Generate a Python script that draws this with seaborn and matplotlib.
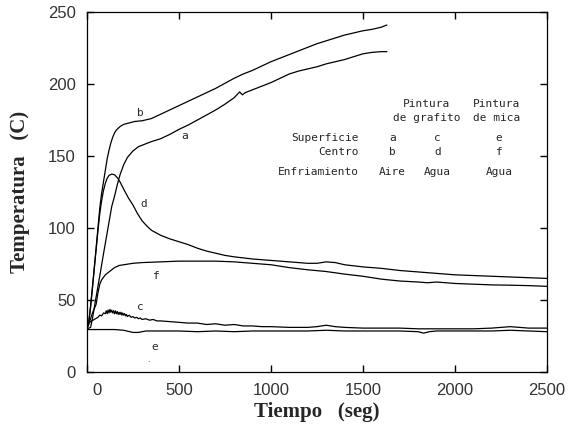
import numpy as np
import pandas as pd
import seaborn as sns
import matplotlib
matplotlib.use("Agg")
import matplotlib.pyplot as plt
from matplotlib.transforms import ScaledTranslation

# curva b: centro, pintura de grafito, aire
t_b = [0, 10, 20, 30, 40, 50, 60, 70, 80, 90, 100, 110, 120, 130, 140, 150, 160, 180, 200, 230,
       260, 300, 350, 400, 450, 500, 550, 600, 650, 700, 750, 800, 850, 900, 950, 1000, 1050,
       1100, 1150, 1200, 1250, 1300, 1350, 1400, 1450, 1500, 1550, 1600, 1630]
T_b = [30, 34, 45, 58, 72, 86, 100, 114, 124, 132, 140, 148, 154, 159, 163, 166, 168, 170.5, 172, 173,
       174, 174.5, 176, 179, 182, 185, 188, 191, 194, 197, 200.5, 204, 207, 209.5, 212.5, 215.5, 218,
       220.5, 223, 225.5, 228, 230, 232, 234, 235.5, 237, 238, 239.5, 241]

# curva a: superficie, pintura de grafito, aire
t_a = [0, 20, 30, 45, 60, 75, 90, 105, 120, 135, 150, 165, 180, 200, 220, 250, 280, 300, 350,
       400, 450, 500, 550, 600, 650, 700, 750, 800, 830, 845, 860, 900, 950, 1000, 1050,
       1100, 1150, 1200, 1250, 1300, 1350, 1400, 1450, 1500, 1550, 1600, 1630]
T_a = [30, 31, 37, 48.5, 59.5, 70.5, 82, 93, 104, 115, 122, 130, 137, 144, 149, 153.5, 156.5, 157.5, 160,
       162, 165, 168.5, 171.5, 175, 178.5, 182, 186, 190.5, 194.5, 192.5, 194, 196, 198.5, 201, 204,
       207, 209, 210.5, 212, 214, 215.5, 217, 219, 221, 222, 222.5, 222.5]

# curva d: centro, pintura de grafito, agua
t_d = [0, 10, 20, 30, 40, 50, 60, 70, 80, 90, 100, 110, 120, 135, 150, 165, 180, 200, 225, 250,
       275, 300, 325, 350, 400, 450, 500, 550, 600, 650, 700, 750, 800, 900, 1000, 1100, 1150,
       1200, 1250, 1300, 1350, 1400, 1500, 1600, 1700, 1800, 1900, 2000, 2100, 2200, 2300, 2400, 2500]
T_d = [30, 35, 46, 59, 72, 85, 98, 110, 119, 126, 131, 134.5, 136.5, 137.5, 137, 135, 132, 127, 121, 116,
       110, 105, 101.5, 98.5, 95, 92.5, 90.5, 88.5, 86, 84, 82.5, 81, 80, 78.5, 77.5, 76.5, 76,
       75.5, 75.5, 76.5, 76, 74.5, 73, 72, 70.5, 69.5, 68.5, 67.5, 67, 66.5, 66, 65.5, 65]

# curva f: centro, pintura de mica, agua
t_f = [0, 10, 20, 30, 40, 50, 60, 70, 80, 100, 125, 150, 175, 200, 250, 300, 400, 500, 600, 700,
       800, 900, 1000, 1100, 1200, 1300, 1400, 1500, 1600, 1700, 1800, 1850, 1900, 1950, 2000,
       2100, 2200, 2300, 2400, 2500]
T_f = [30, 33, 37, 41, 44, 47, 55, 61, 64, 67.5, 70, 72.5, 74, 74.5, 75.5, 76, 76.5, 77, 77, 77,
       76.5, 75.5, 74.5, 72.5, 71, 69.8, 68, 66.5, 64.5, 63.2, 62.5, 62, 62.5, 62, 61.5,
       61, 60.5, 60.3, 60, 59.5]

# curva c: superficie, pintura de grafito, agua (señal ruidosa)
t_c = [0, 20, 40, 60, 70, 80, 90, 100, 105, 110, 115, 120, 125, 130, 135, 140, 145, 150, 155, 160,
       165, 170, 175, 180, 185, 190, 195, 200, 205, 210, 215, 220, 230, 240, 250, 260, 270, 280,
       290, 300, 320, 340, 360, 380, 400, 450, 500, 550, 600, 650, 700, 750, 800, 850, 900, 950,
       1000, 1100, 1200, 1250, 1300, 1350, 1400, 1500, 1600, 1700, 1800, 1900, 2000, 2100, 2200,
       2250, 2300, 2350, 2400, 2500]
T_c = [33, 35, 36.5, 38, 39.5, 39, 41, 40.5, 42.5, 40.5, 43, 41, 43.5, 41.5, 43, 41, 42.5, 40.5, 42.5, 40.5,
       42, 40, 41.5, 40, 41.5, 39.5, 41, 39.5, 40.5, 39, 40, 38.5, 39.5, 38, 38.5, 37.5, 38, 37,
       37.5, 36.5, 37, 36, 36.5, 35.5, 35.5, 35, 34.5, 34, 34, 33, 33.5, 32.5, 33, 32, 32, 31.5,
       31.5, 31, 31, 31.5, 32.5, 31.5, 31, 30.5, 30.5, 30.5, 30, 30, 30, 30, 30.5,
       31, 31.5, 31, 30.5, 30.5]

# curva e: superficie, pintura de mica, agua
t_e = [0, 100, 150, 200, 250, 280, 320, 400, 500, 600, 700, 800, 900, 1000, 1100, 1200, 1300,
       1400, 1500, 1600, 1700, 1800, 1830, 1860, 1900, 2000, 2100, 2200, 2300, 2400, 2500]
T_e = [29.5, 29.5, 29.5, 29, 27.5, 27.5, 28.5, 28.5, 28.5, 28, 28.5, 28, 28.5, 28.5, 28.5, 28.5, 29,
       28.5, 28.5, 28.5, 28.5, 28, 27, 28, 28.5, 28.5, 28.5, 28.5, 29, 28.5, 28]

curvas = {"a": (t_a, T_a), "b": (t_b, T_b), "c": (t_c, T_c),
          "d": (t_d, T_d), "e": (t_e, T_e), "f": (t_f, T_f)}

# posiciones de las letras de cada curva
etiquetas = {"a": (533, 164), "b": (288, 180), "c": (288, 45),
             "d": (310, 117), "e": (370, 17.5), "f": (380, 67)}

sns.set_style("ticks")
mono = "DejaVu Sans Mono"

fig = plt.figure(figsize=(5.68, 4.24), dpi=100)
ax = fig.add_axes([0.153, 0.1226, 0.81, 0.849])

for k, (t, T) in curvas.items():
    sns.lineplot(x=t, y=T, color="black", lw=0.9, ax=ax)

for k, (x, y) in etiquetas.items():
    ax.text(x, y, k, fontsize=8, family=mono, ha="center", va="center")
ax.text(337, 8.5, ".", fontsize=6, ha="center", va="center")

# tabla de leyenda
ax.text(1848, 186, "Pintura", fontsize=8, family=mono, ha="center", va="center")
ax.text(1848, 176.4, "de grafito", fontsize=8, family=mono, ha="center", va="center")
ax.text(2228, 186, "Pintura", fontsize=8, family=mono, ha="center", va="center")
ax.text(2228, 176.4, "de mica", fontsize=8, family=mono, ha="center", va="center")
filas = [("Superficie", 162.5, ["a", "c", "e"]),
         ("Centro", 152.8, ["b", "d", "f"]),
         ("Enfriamiento", 139, ["Aire", "Agua", "Agua"])]
cols = [1660, 1905, 2240]
for nombre, y, vals in filas:
    ax.text(1478, y, nombre, fontsize=8, family=mono, ha="right", va="center")
    for x, v in zip(cols, vals):
        ax.text(x, y, v, fontsize=8, family=mono, ha="center", va="center")

ax.set_xlim(0, 2500)
ax.set_ylim(0, 250)
ax.set_xticks([0, 500, 1000, 1500, 2000, 2500])
ax.set_yticks([0, 50, 100, 150, 200, 250])
ax.tick_params(direction="in", top=True, right=True, length=5, width=1,
               labelsize=12, pad=8, colors="black")
for lbl in ax.get_xticklabels() + ax.get_yticklabels():
    lbl.set_family("Liberation Sans")
    lbl.set_color("#333333")
lbl0 = ax.get_xticklabels()[0]
lbl0.set_transform(lbl0.get_transform() + ScaledTranslation(0.10, 0, fig.dpi_scale_trans))
for s in ax.spines.values():
    s.set_linewidth(0.9)
    s.set_color("black")

ax.set_xlabel("Tiempo   (seg)", fontsize=15, family="Liberation Serif", weight="bold", labelpad=3)
ax.set_ylabel("Temperatura   (C)", fontsize=15, family="Liberation Serif", weight="bold", labelpad=13)

fig.savefig("out.png", dpi=100)
